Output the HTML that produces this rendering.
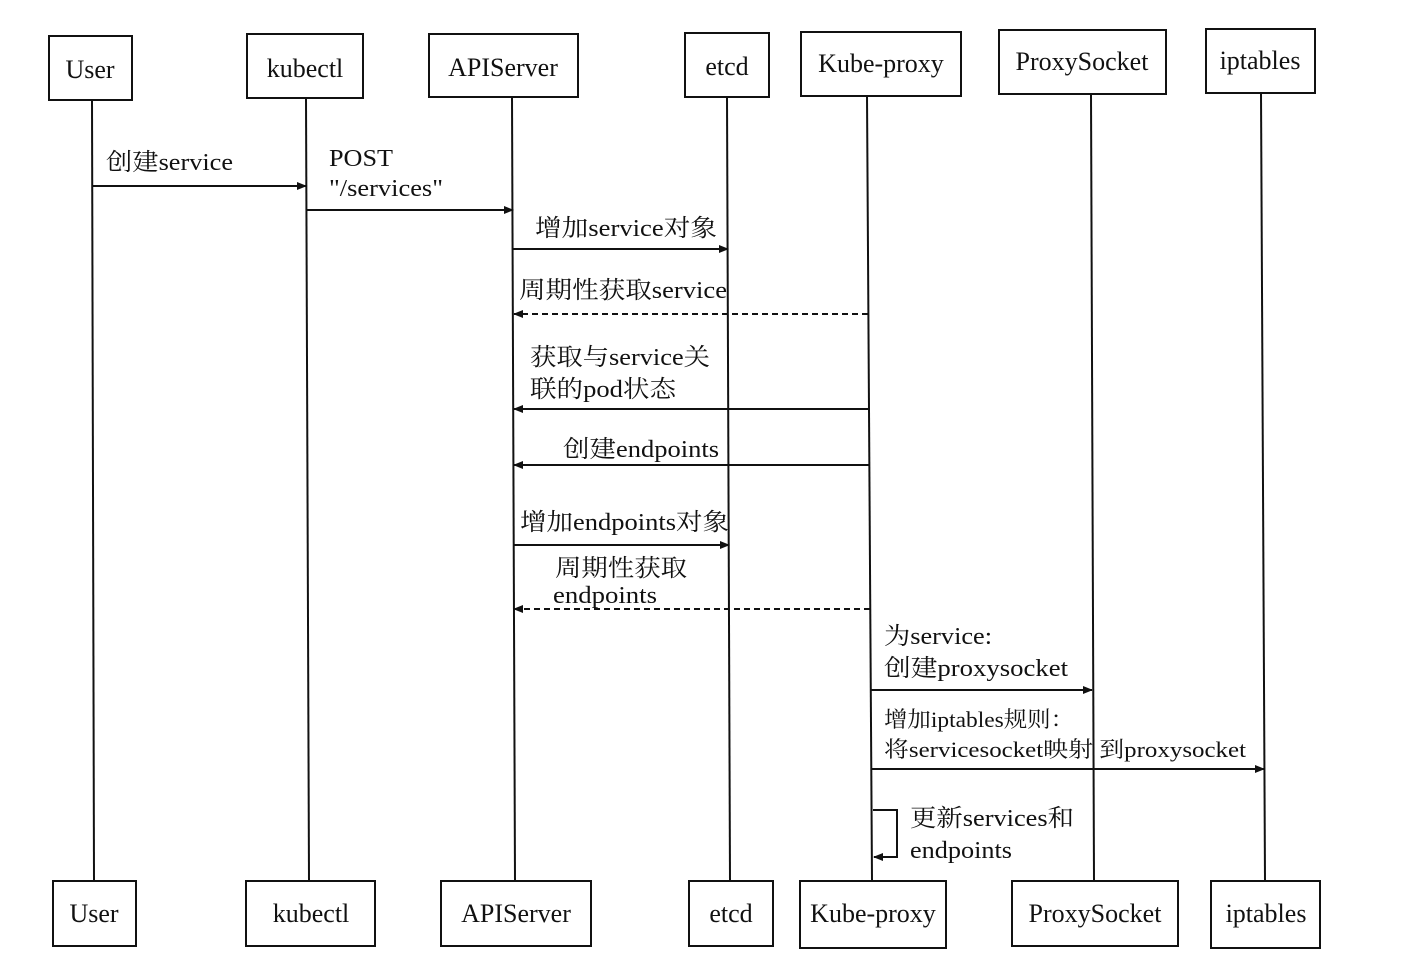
<!DOCTYPE html>
<html><head><meta charset="utf-8"><style>
html,body{margin:0;padding:0;background:#fff;}
svg text{font-family:"Liberation Serif","Noto Serif CJK SC",serif;fill:#111;}
</style></head><body>
<svg width="1402" height="968" viewBox="0 0 1402 968" xmlns="http://www.w3.org/2000/svg">
<defs>
<marker id="a" markerWidth="10" markerHeight="8" refX="9" refY="4" orient="auto" markerUnits="userSpaceOnUse">
<path d="M0,0 L10,4 L0,8 z" fill="#111"/></marker>
</defs>
<g stroke="#111" stroke-width="2" fill="none">
<line x1="92" y1="100" x2="94" y2="881"/>
<line x1="306" y1="98" x2="309" y2="881"/>
<line x1="512" y1="97" x2="515" y2="881"/>
<line x1="727" y1="97" x2="730" y2="881"/>
<line x1="867" y1="96" x2="872" y2="881"/>
<line x1="1091" y1="94" x2="1094" y2="881"/>
<line x1="1261" y1="93" x2="1265" y2="881"/>
<rect x="49" y="36" width="83" height="64"/>
<rect x="247" y="34" width="116" height="64"/>
<rect x="429" y="34" width="149" height="63"/>
<rect x="685" y="33" width="84" height="64"/>
<rect x="801" y="32" width="160" height="64"/>
<rect x="999" y="30" width="167" height="64"/>
<rect x="1206" y="29" width="109" height="64"/>
<rect x="53" y="881" width="83" height="65"/>
<rect x="246" y="881" width="129" height="65"/>
<rect x="441" y="881" width="150" height="65"/>
<rect x="689" y="881" width="84" height="65"/>
<rect x="800" y="881" width="146" height="67"/>
<rect x="1012" y="881" width="166" height="65"/>
<rect x="1211" y="881" width="109" height="67"/>
<line x1="93" y1="186" x2="306" y2="186" marker-end="url(#a)"/>
<line x1="307" y1="210" x2="513" y2="210" marker-end="url(#a)"/>
<line x1="513" y1="249" x2="728" y2="249" marker-end="url(#a)"/>
<line x1="868" y1="314" x2="514" y2="314" stroke-dasharray="6,4" marker-end="url(#a)"/>
<line x1="869" y1="409" x2="514" y2="409" marker-end="url(#a)"/>
<line x1="870" y1="465" x2="514" y2="465" marker-end="url(#a)"/>
<line x1="514" y1="545" x2="729" y2="545" marker-end="url(#a)"/>
<line x1="870" y1="609" x2="514" y2="609" stroke-dasharray="6,4" marker-end="url(#a)"/>
<line x1="871" y1="690" x2="1092" y2="690" marker-end="url(#a)"/>
<line x1="872" y1="769" x2="1264" y2="769" marker-end="url(#a)"/>
<polyline points="873,810 897,810 897,857 874,857" marker-end="url(#a)"/>
</g>
<g font-size="26" text-anchor="middle">
<text x="90" y="78">User</text>
<text x="305" y="77">kubectl</text>
<text x="503" y="76">APIServer</text>
<text x="727" y="75">etcd</text>
<text x="881" y="72">Kube-proxy</text>
<text x="1082" y="70">ProxySocket</text>
<text x="1260" y="69">iptables</text>
<text x="94" y="922">User</text>
<text x="311" y="922">kubectl</text>
<text x="516" y="922">APIServer</text>
<text x="731" y="922">etcd</text>
<text x="873" y="922">Kube-proxy</text>
<text x="1095" y="922">ProxySocket</text>
<text x="1266" y="922">iptables</text>
</g>
<g font-size="24" lengthAdjust="spacingAndGlyphs">
<text x="106" y="170" textLength="127" lengthAdjust="spacingAndGlyphs">创建service</text>
<text x="329" y="166" textLength="64" lengthAdjust="spacingAndGlyphs">POST</text>
<text x="329" y="196" textLength="114" lengthAdjust="spacingAndGlyphs">"/services"</text>
<text x="535" y="236" textLength="182" lengthAdjust="spacingAndGlyphs">增加service对象</text>
<text x="519" y="298" textLength="208" lengthAdjust="spacingAndGlyphs">周期性获取service</text>
<text x="530" y="365" textLength="180" lengthAdjust="spacingAndGlyphs">获取与service关</text>
<text x="530" y="397" textLength="146" lengthAdjust="spacingAndGlyphs">联的pod状态</text>
<text x="563" y="457" textLength="156" lengthAdjust="spacingAndGlyphs">创建endpoints</text>
<text x="520" y="530" textLength="209" lengthAdjust="spacingAndGlyphs">增加endpoints对象</text>
<text x="555" y="576" textLength="132" lengthAdjust="spacingAndGlyphs">周期性获取</text>
<text x="553" y="603" textLength="104" lengthAdjust="spacingAndGlyphs">endpoints</text>
<text x="884" y="644" textLength="108" lengthAdjust="spacingAndGlyphs">为service:</text>
<text x="884" y="676" textLength="184" lengthAdjust="spacingAndGlyphs">创建proxysocket</text>
<text x="884" y="727" font-size="22" textLength="190" lengthAdjust="spacingAndGlyphs">增加iptables规则：</text>
<text x="884" y="757" font-size="22" textLength="362" lengthAdjust="spacingAndGlyphs">将servicesocket映射 到proxysocket</text>
<text x="910" y="826" textLength="164" lengthAdjust="spacingAndGlyphs">更新services和</text>
<text x="910" y="858" textLength="102" lengthAdjust="spacingAndGlyphs">endpoints</text>
</g>
</svg>
</body></html>
